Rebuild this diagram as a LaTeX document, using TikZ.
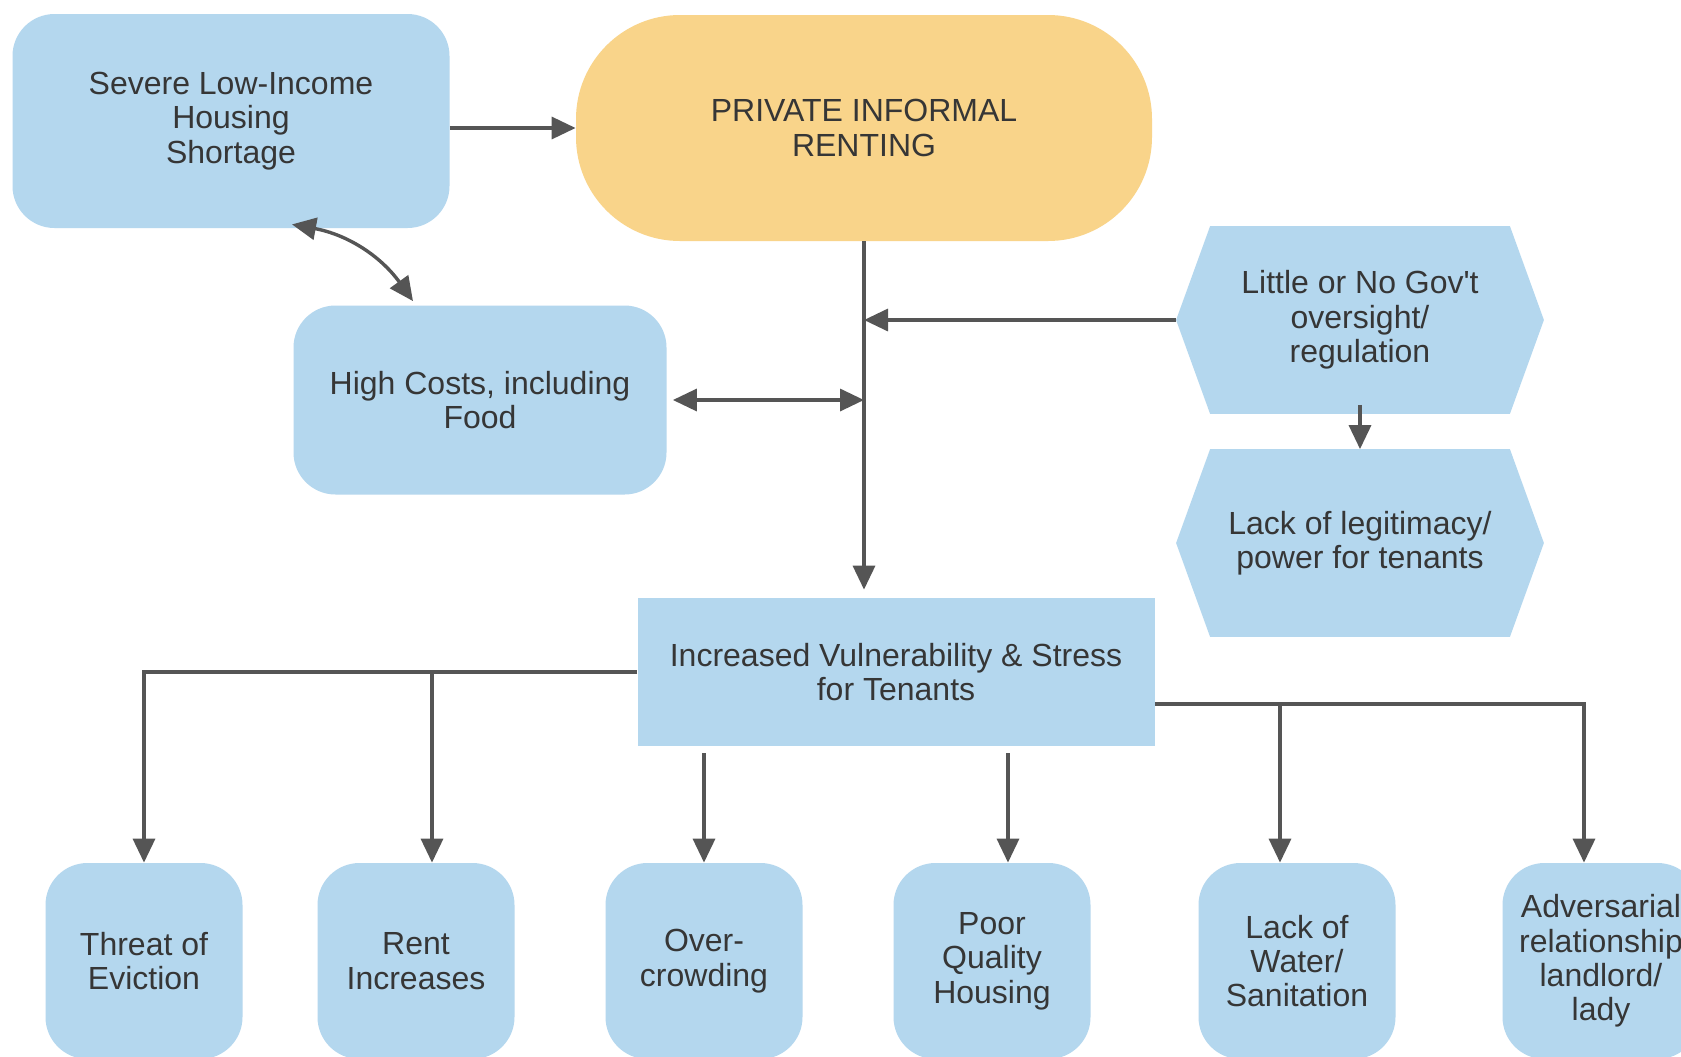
\documentclass[tikz,border=0pt]{standalone}
\usepackage{fontspec}
\setmainfont{Liberation Sans}
\usetikzlibrary{arrows.meta,backgrounds}
\definecolor{boxblue}{HTML}{B4D7EE}
\definecolor{rentorange}{HTML}{F9D48A}
\definecolor{linegray}{HTML}{555555}
\definecolor{textgray}{HTML}{363636}
\tikzset{
  softbox/.style={fill=boxblue,rounded corners=21pt,inner sep=0pt,align=center,text=textgray},
  topbox/.style={softbox,minimum width=218.5pt,minimum height=107pt},
  costbox/.style={softbox,minimum width=186.5pt,minimum height=94.5pt},
  effectbox/.style={softbox,minimum width=98.5pt,minimum height=98pt},
  rentoval/.style={fill=rentorange,rounded corners=52pt,inner sep=0pt,align=center,text=textgray,minimum width=288pt,minimum height=113pt},
  hexbox/.style={inner sep=0pt,align=center,text=textgray,minimum width=183.5pt,minimum height=93.5pt},
  stressbox/.style={fill=boxblue,inner sep=0pt,align=center,text=textgray,minimum width=258.5pt,minimum height=74pt},
  link/.style={draw=linegray,line width=1.7pt}
}
\begin{document}
\begin{tikzpicture}[x=0.5pt,y=-0.5pt,>={Triangle[length=12pt,width=11pt]},font=\fontsize{16}{17.2}\selectfont]
                \useasboundingbox (0,0) rectangle (1681,1056);
                \clip (0,0) rectangle (1681,1056);
                \node [topbox] (shortage) at (231,121) {Severe Low-Income\\Housing\\Shortage};
                \node [rentoval] (renting) at (864,128) {PRIVATE INFORMAL\\RENTING};
                \node [costbox] (costs) at (480,400) {High Costs, including\\Food};
                \node [hexbox] (oversight) at (1360,320) {Little or No Gov\textquotesingle t\\oversight/\\regulation};
                \node [hexbox] (legitimacy) at (1360,543) {Lack of legitimacy/\\power for tenants};
                \node [stressbox] (stress) at (896,672) {Increased Vulnerability \& Stress\\for Tenants};
                \node [effectbox] (eviction) at (144,961) {Threat of\\Eviction};
                \node [effectbox] (rentup) at (416,961) {Rent\\Increases};
                \node [effectbox] (crowding) at (704,961) {Over-\\crowding};
                \node [effectbox] (quality) at (992,961) {Poor\\Quality\\Housing};
                \node [effectbox] (water) at (1297,961) {Lack of\\Water/\\Sanitation};
                \node [effectbox] (adversarial) at (1601,961) {Adversarial\\relationship\\landlord/\\lady};
                \begin{pgfonlayer}{background}
                    \fill [white] (0,0) rectangle (1681,1056);
                    \foreach \hex in {oversight,legitimacy}
                        \fill [boxblue] (\hex.west) -- ([xshift=17pt]\hex.north west) -- ([xshift=-17pt]\hex.north east) -- (\hex.east) -- ([xshift=-17pt]\hex.south east) -- ([xshift=17pt]\hex.south west) -- cycle;
                \end{pgfonlayer}
                \coordinate (rightfork) at ([yshift=-16pt]stress.east);
                \draw [link,->] (shortage.east |- renting.west) -- (renting.west);
                \draw [link,<->] ([shift={(30.5pt,2pt)}]shortage.south) to[bend left=22] ([shift={(-33.5pt,2pt)}]costs.north);
                \draw [link,->,shorten >=4pt] (renting.south) -- (renting.south |- stress.north);
                \draw [link,->] (oversight.west) -- (oversight.west -| renting.south);
                \draw [link,<->] ([xshift=3pt]costs.east) -- (costs.east -| renting.south);
                \draw [link,->] ([yshift=4.5pt]oversight.south) -- (legitimacy.north);
                \draw [link,->] (stress.west) -| (eviction.north);
                \draw [link,->] ([xshift=8pt]rentup.north |- stress.west) -- ([xshift=8pt]rentup.north);
                \draw [link,->] ([yshift=-3.5pt]stress.south -| crowding.north) -- (crowding.north);
                \draw [link,->] ([yshift=-3.5pt,xshift=8pt]stress.south -| quality.north) -- ([xshift=8pt]quality.north);
                \draw [link,->] (rightfork) -| ([xshift=-8.5pt]adversarial.north);
                \draw [link,->] ([xshift=-8.5pt]water.north |- rightfork) -- ([xshift=-8.5pt]water.north);
\end{tikzpicture}
\end{document}
